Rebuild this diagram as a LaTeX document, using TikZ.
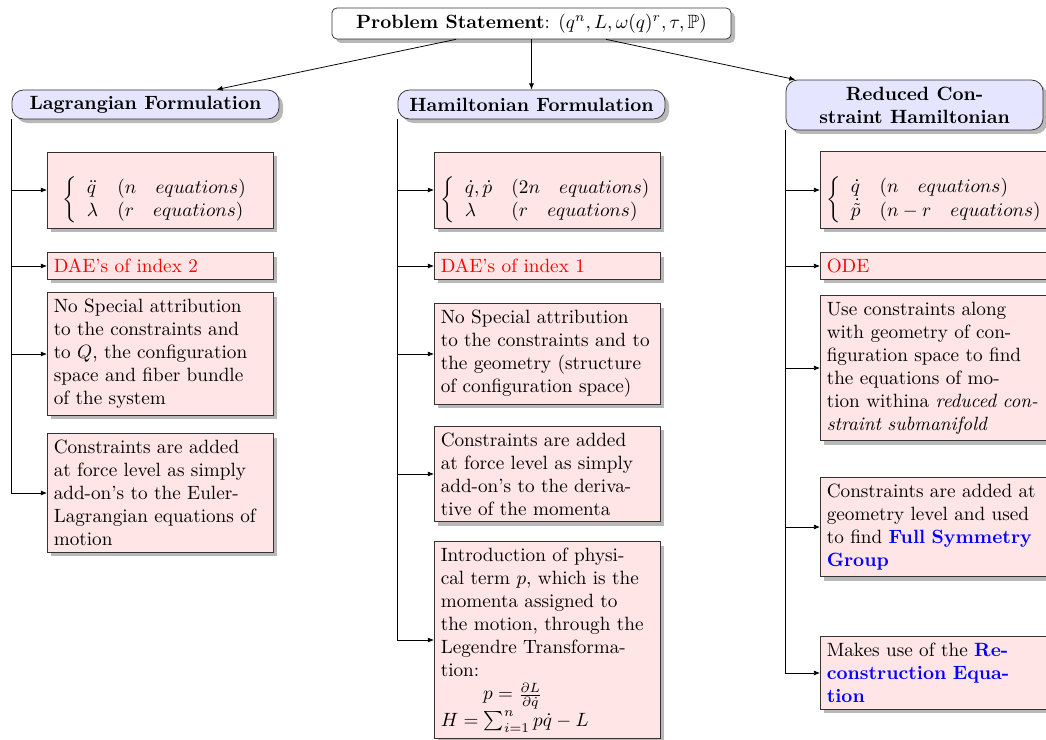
\documentclass[tikz,border=0pt]{standalone}
\usepackage{amsmath,amssymb}
\usetikzlibrary{shadows,arrows.meta}

\begin{document}
\begin{tikzpicture}[x=0.52083pt,y=-0.52083pt,
  boxshadow/.style={drop shadow={shadow xshift=2.1pt,shadow yshift=-2.1pt,fill=black!28,opacity=1}},
  topbox/.style={draw=black!80,fill=white,rounded corners=2.5pt,boxshadow,
    minimum width=207.8pt,minimum height=16.1pt,inner sep=2pt},
  headbox/.style={draw=black!80,fill=blue!10,rounded corners=6pt,boxshadow,
    minimum width=139.1pt,minimum height=15.1pt,inner sep=2pt},
  pinkbox/.style={draw=black!80,fill=red!10,boxshadow,anchor=west,
    text width=111pt,align=left,inner sep=3.33pt},
  eqbox/.style={pinkbox,align=center,inner ysep=2.5pt},
  link/.style={-{Latex[length=3.2pt,width=2.6pt]},black},
  branch/.style={-{Latex[length=3.2pt,width=2.6pt]},black}]

\useasboundingbox (0,0) rectangle (1046,740);

% root
\node[topbox] (prob) at (531.5,23.5)
  {\textbf{Problem Statement}: $(q^n, L, \omega(q)^r, \tau, \mathbb{P})$};

% three formulations
\node[headbox] (lagr) at (145.5,104.5) {\textbf{Lagrangian Formulation}};
\node[headbox] (ham)  at (531.5,104.5) {\textbf{Hamiltonian Formulation}};
\node[headbox,minimum width=133.9pt,minimum height=26pt,align=center] (red) at (914.5,105)
  {\textbf{Reduced Con-}\\\textbf{straint Hamiltonian}};

\draw[link] (prob) -- (lagr);
\draw[link] (prob) -- (ham);
\draw[link] (prob) -- (red);

% Lagrangian column
\node[eqbox] (l1) at (47,190)
  {\rule{0pt}{25pt}$\left\{\begin{array}{ll}\ddot{q} & (n\quad equations)\\ \lambda & (r\quad equations)\end{array}\right.$};
\node[pinkbox] (l2) at (47,266) {\textcolor{red}{DAE’s of index 2}};
\node[pinkbox] (l3) at (47,354)
  {No Special attribution\\ to the constraints and\\ to $Q$, the configuration\\ space and fiber bundle\\ of the system};
\node[pinkbox] (l4) at (47,493)
  {Constraints are added\\ at force level as simply\\ add-on’s to the Euler-\\ Lagrangian equations of\\ motion};

% Hamiltonian column
\node[eqbox] (h1) at (434,190)
  {\rule{0pt}{25pt}$\left\{\begin{array}{ll}\dot{q},\dot{p} & (2n\quad equations)\\ \lambda & (r\quad equations)\end{array}\right.$};
\node[pinkbox] (h2) at (434,266) {\textcolor{red}{DAE’s of index 1}};
\node[pinkbox] (h3) at (434,354)
  {No Special attribution\\ to the constraints and to\\ the geometry (structure\\ of configuration space)};
\node[pinkbox] (h4) at (434,474)
  {Constraints are added\\ at force level as simply\\ add-on’s to the deriva-\\ tive of the momenta};
\node[pinkbox] (h5) at (434,640)
  {Introduction of physi-\\ cal term $p$, which is the\\ momenta assigned to\\ the motion, through the\\ Legendre Transforma-\\ tion:\\
   \hspace*{22pt}$p=\frac{\partial L}{\partial \dot{q}}$\\ $H=\sum_{i=1}^{n} p\dot{q}-L$};

% Reduced constraint Hamiltonian column
\node[eqbox] (r1) at (820,190)
  {\rule{0pt}{25pt}$\left\{\begin{array}{ll}\dot{q} & (n\quad equations)\\ \dot{\tilde{p}} & (n-r\quad equations)\end{array}\right.$};
\node[pinkbox] (r2) at (820,266) {\textcolor{red}{ODE}};
\node[pinkbox] (r3) at (820,368)
  {Use constraints along\\ with geometry of con-\\ figuration space to find\\ the equations of mo-\\ tion withina \textit{reduced con-}\\ \textit{straint submanifold}};
\node[pinkbox] (r4) at (820,527)
  {Constraints are added at\\ geometry level and used\\ to find \textcolor{blue}{\textbf{Full Symmetry}}\\ \textcolor{blue}{\textbf{Group}}};
\node[pinkbox] (r5) at (820,673)
  {Makes use of the \textcolor{blue}{\textbf{Re-}}\\ \textcolor{blue}{\textbf{construction Equa-}}\\ \textcolor{blue}{\textbf{tion}}};

% branches
\foreach \n in {l1,l2,l3,l4} \draw[branch] (lagr.south west) |- (\n.west);
\foreach \n in {h1,h2,h3,h4,h5} \draw[branch] (ham.south west) |- (\n.west);
\foreach \n in {r1,r2,r3,r4,r5} \draw[branch] (red.south west) |- (\n.west);

\end{tikzpicture}
\end{document}
